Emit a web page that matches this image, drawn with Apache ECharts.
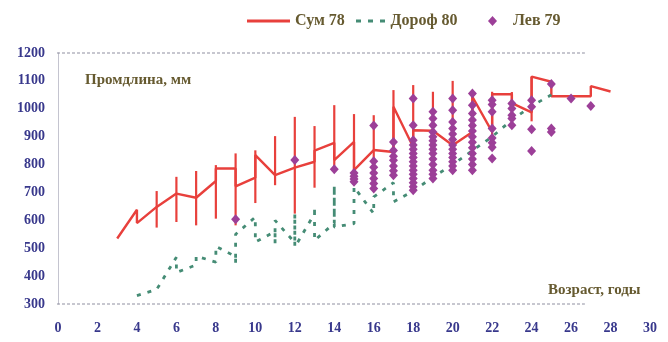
<!DOCTYPE html>
<html>
<head>
<meta charset="utf-8">
<script src="https://cdn.jsdelivr.net/npm/echarts@6/dist/echarts.min.js"></script>
<style>html,body{margin:0;padding:0;background:#fff}#c{width:668px;height:342px}</style>
</head>
<body>
<div id="c"></div>
<script>
// ---- data ----
const xTicks = [0, 30, 2];          // min, max, step (age, years)
const yTicks = [300, 1200, 100];    // min, max, step (length, mm)

// Сум 78: mean line (two values where the line steps at an age)
const sumAge = [3, 4, 4, 5, 6, 7, 8, 8, 9, 9, 10, 10, 11, 12, 13, 13, 14, 14, 15, 15, 16, 17, 17, 18, 18, 19, 20, 21, 21, 22, 22, 23, 23, 24, 24, 25, 25, 27, 27, 28];
const sumLen = [535, 638, 590, 648, 696, 681, 741, 786, 786, 722, 753, 834, 762, 789, 810, 850, 878, 816, 881, 780, 852, 845, 1007, 863, 923, 921, 869, 917, 1043, 917, 1052, 1052, 1020, 987, 1115, 1097, 1045, 1045, 1081, 1062];

// Сум 78: min–max range bars
const rangeAge  = [5, 6, 7, 8, 9, 10, 11, 12, 13, 14, 15, 16, 17, 18, 19, 20, 21, 22, 23, 24];
const rangeLow  = [574, 594, 582, 606, 582, 662, 726, 624, 717, 780, 780, 720, 845, 710, 750, 774, 780, 870, 1015, 955];
const rangeHigh = [705, 756, 777, 798, 840, 851, 902, 971, 938, 1013, 981, 977, 1067, 1085, 1061, 1100, 1061, 1061, 1060, 1115];

// Дороф 80: dashed line through the individual values
const dorAge = [4, 5, 6, 6, 7, 7, 8, 8, 9, 9, 9, 10, 10, 11, 11, 11, 12, 12, 12, 13, 13, 13, 14, 14, 14, 14, 15, 15, 16, 16, 17, 17, 18, 19, 20, 21, 22, 23, 24, 25];
const dorLen = [330, 352, 468, 413, 440, 472, 450, 507, 470, 444, 550, 612, 522, 560, 516, 600, 520, 624, 504, 624, 648, 528, 590, 726, 666, 576, 588, 720, 624, 684, 735, 666, 705, 755, 800, 850, 900, 960, 1010, 1050];

// Лев 79: individual fish
const levAge = [9, 12, 14, 15, 16, 17, 18, 19, 20, 21, 22, 23, 24, 25, 26, 27];
const levLen = [
  [604],
  [816],
  [783],
  [770, 758, 748, 738],
  [940, 812, 790, 770, 750, 732, 714],
  [881, 850, 830, 815, 795, 778, 762],
  [1037, 941, 887, 870, 855, 840, 825, 810, 795, 780, 765, 750, 735, 720, 708],
  [989, 965, 941, 917, 900, 885, 870, 855, 840, 820, 800, 780, 765, 750],
  [1037, 995, 953, 929, 910, 890, 870, 855, 840, 825, 810, 795, 780],
  [1055, 1013, 983, 960, 940, 920, 900, 880, 860, 840, 820, 800, 780],
  [1031, 1015, 989, 929, 895, 878, 862, 822],
  [1019, 1001, 977, 965, 941],
  [1031, 1007, 927, 849],
  [1089, 929, 917],
  [1037],
  [1010]
];

const names = ['Сум 78', 'Дороф 80', 'Лев 79'];
const axisTitle = ['Промдлина, мм', 'Возраст, годы'];

// ---- build ----
const RED = '#e8403c', GREEN = '#458c75', PURPLE = '#9c3f98';
const TXT = '#665a30', TICK = '#38388c';
const FONT = '"Liberation Serif", "DejaVu Serif", serif';

const sumData = sumAge.map((a, i) => [a, sumLen[i]]);
const rangeData = rangeAge.map((a, i) => [a, rangeLow[i], rangeHigh[i]]);
const dorData = dorAge.map((a, i) => [a, dorLen[i]]);
const levData = [];
levAge.forEach((a, i) => levLen[i].forEach(v => levData.push([a, v])));

const chart = echarts.init(document.getElementById('c'), null, { renderer: 'canvas' });
const legendText = { fontFamily: FONT, fontWeight: 'bold', fontSize: 16, color: TXT };

chart.setOption({
  animation: false,
  backgroundColor: '#fff',
  grid: { left: 58, right: 18, top: 53, bottom: 38, containLabel: false },
  legend: [
    { data: [{ name: names[0], icon: 'rect' }], left: 242, top: 8, itemWidth: 43, itemHeight: 3, textStyle: legendText, selectedMode: false },
    { data: [{ name: names[1], icon: 'path://M0,0L5,0L5,3L0,3Z M12,0L17,0L17,3L12,3Z M24,0L29,0L29,3L24,3Z' }], left: 351, top: 8, itemWidth: 30, itemHeight: 3, textStyle: legendText, selectedMode: false },
    { data: [{ name: names[2], icon: 'diamond' }], left: 483, top: 8, itemWidth: 9, itemHeight: 10, textStyle: Object.assign({ padding: [0, 0, 0, 11] }, legendText), selectedMode: false }
  ],
  title: [
    { text: axisTitle[0], left: 80, top: 68, textStyle: { fontFamily: FONT, fontWeight: 'bold', fontSize: 15, color: TXT } },
    { text: axisTitle[1], left: 543, top: 278, textStyle: { fontFamily: FONT, fontWeight: 'bold', fontSize: 15, color: TXT } }
  ],
  xAxis: {
    type: 'value', min: xTicks[0], max: xTicks[1], interval: xTicks[2],
    axisLine: { show: false }, axisTick: { show: false }, splitLine: { show: false },
    axisLabel: { margin: 17, fontFamily: FONT, fontWeight: 'bold', fontSize: 14, color: TICK, formatter: v => String(v) }
  },
  yAxis: {
    type: 'value', min: yTicks[0], max: yTicks[1], interval: yTicks[2],
    axisLine: { show: true, lineStyle: { color: '#c4c4cf', width: 1 } },
    axisTick: { show: false }, splitLine: { show: false },
    axisLabel: { margin: 13, fontFamily: FONT, fontWeight: 'bold', fontSize: 14, color: TICK, formatter: v => String(v) }
  },
  series: [
    {
      type: 'custom', name: 'range', z: 2,
      data: rangeData,
      encode: { x: 0, y: [1, 2] },
      renderItem: function (params, api) {
        const x = api.value(0);
        const p1 = api.coord([x, api.value(1)]);
        const p2 = api.coord([x, api.value(2)]);
        return { type: 'line', shape: { x1: p1[0], y1: p1[1], x2: p2[0], y2: p2[1] }, style: { stroke: RED, lineWidth: 2.2 } };
      }
    },
    {
      type: 'line', name: names[0], z: 3,
      data: sumData, symbol: 'none',
      lineStyle: { color: RED, width: 2.4 }, itemStyle: { color: RED }
    },
    {
      type: 'line', name: names[1], z: 4,
      data: dorData, symbol: 'none',
      lineStyle: { color: GREEN, width: 2.8, type: [4, 7] }, itemStyle: { color: GREEN }
    },
    {
      type: 'scatter', name: names[2], z: 5,
      data: levData, symbol: 'diamond', symbolSize: [9, 10],
      itemStyle: { color: PURPLE, opacity: 1 }
    }
  ]
});

// plot frame (decoration, placed through the axes)
const tl = chart.convertToPixel({ gridIndex: 0 }, [-0.05, yTicks[1]]);
const tr = chart.convertToPixel({ gridIndex: 0 }, [26.7, yTicks[1]]);
const bl = chart.convertToPixel({ gridIndex: 0 }, [-0.05, yTicks[0]]);
const br = chart.convertToPixel({ gridIndex: 0 }, [26.7, yTicks[0]]);
chart.setOption({
  graphic: [
    { type: 'line', shape: { x1: tl[0], y1: tl[1], x2: tr[0], y2: tr[1] }, style: { stroke: '#8f8fa0', lineWidth: 1, lineDash: [3, 2] }, z: 1 },
    { type: 'line', shape: { x1: bl[0], y1: bl[1], x2: br[0], y2: br[1] }, style: { stroke: '#8f8fa0', lineWidth: 1, lineDash: [3, 2] }, z: 1 }
  ]
});
</script>
</body>
</html>
